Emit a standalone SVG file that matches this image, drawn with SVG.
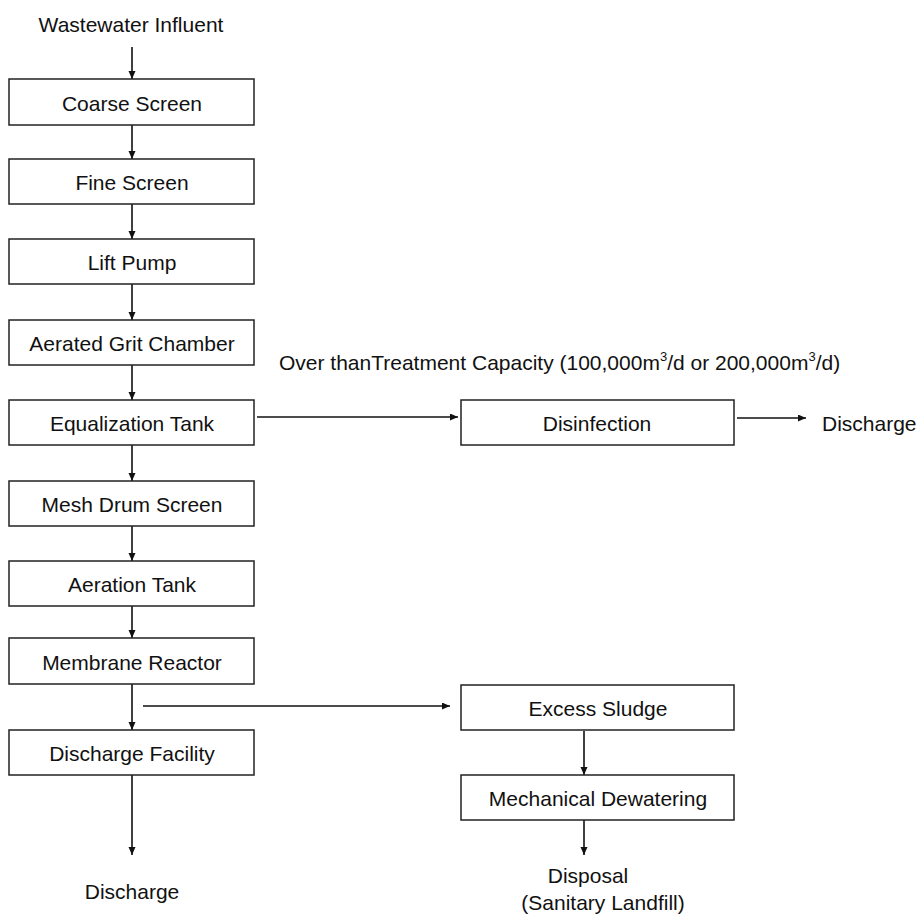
<svg xmlns="http://www.w3.org/2000/svg" width="922" height="918" viewBox="0 0 922 918">
<defs>
<style>
.box{fill:#fff;stroke:#222;stroke-width:1.5}
.t{font-family:"Liberation Sans",Arial,sans-serif;font-size:21px;fill:#111}
.c{text-anchor:middle}
.ln{stroke:#111;stroke-width:1.6;fill:none;marker-end:url(#ah)}
</style>
<marker id="ah" markerUnits="userSpaceOnUse" markerWidth="9" markerHeight="8" refX="8" refY="3.5" orient="auto">
<path d="M0,0 L8,3.5 L0,7 z" fill="#111"/>
</marker>
</defs>
<rect width="922" height="918" fill="#fff"/>
<g id="connectors">
<line class="ln" x1="132" y1="47" x2="132" y2="79"/>
<line class="ln" x1="132" y1="125" x2="132" y2="159"/>
<line class="ln" x1="132" y1="204" x2="132" y2="239"/>
<line class="ln" x1="132" y1="284" x2="132" y2="320"/>
<line class="ln" x1="132" y1="365" x2="132" y2="400"/>
<line class="ln" x1="132" y1="445" x2="132" y2="481"/>
<line class="ln" x1="132" y1="526" x2="132" y2="561"/>
<line class="ln" x1="132" y1="606" x2="132" y2="638"/>
<line class="ln" x1="132" y1="684" x2="132" y2="730"/>
<line class="ln" x1="132" y1="775" x2="132" y2="855"/>
<line class="ln" x1="257" y1="417" x2="458" y2="417"/>
<line class="ln" x1="737" y1="418" x2="806" y2="418"/>
<line class="ln" x1="143" y1="706" x2="450" y2="706"/>
<line class="ln" x1="584" y1="731" x2="584" y2="775"/>
<line class="ln" x1="584" y1="820" x2="584" y2="855"/>
</g>
<g id="influent"><text class="t c" x="131" y="32">Wastewater Influent</text></g>
<g id="coarse-screen"><rect class="box" x="9" y="79" width="245" height="46"/><text class="t c" x="132" y="111">Coarse Screen</text></g>
<g id="fine-screen"><rect class="box" x="9" y="159" width="245" height="45"/><text class="t c" x="132" y="190">Fine Screen</text></g>
<g id="lift-pump"><rect class="box" x="9" y="239" width="245" height="45"/><text class="t c" x="132" y="270">Lift Pump</text></g>
<g id="grit-chamber"><rect class="box" x="9" y="320" width="245" height="45"/><text class="t c" x="132" y="351">Aerated Grit Chamber</text></g>
<g id="equalization"><rect class="box" x="9" y="400" width="245" height="45"/><text class="t c" x="132" y="431">Equalization Tank</text></g>
<g id="mesh-drum"><rect class="box" x="9" y="481" width="245" height="45"/><text class="t c" x="132" y="512">Mesh Drum Screen</text></g>
<g id="aeration"><rect class="box" x="9" y="561" width="245" height="45"/><text class="t c" x="132" y="592">Aeration Tank</text></g>
<g id="membrane"><rect class="box" x="9" y="638" width="245" height="46"/><text class="t c" x="132" y="670">Membrane Reactor</text></g>
<g id="discharge-facility"><rect class="box" x="9" y="730" width="245" height="45"/><text class="t c" x="132" y="761">Discharge Facility</text></g>
<g id="discharge-bottom"><text class="t c" x="132" y="899">Discharge</text></g>
<g id="overflow-label"><text class="t" x="279" y="370">Over thanTreatment Capacity (100,000m<tspan dy="-9" font-size="13">3</tspan><tspan dy="9">/d or 200,000m</tspan><tspan dy="-9" font-size="13">3</tspan><tspan dy="9">/d)</tspan></text></g>
<g id="disinfection"><rect class="box" x="461" y="400" width="273" height="45"/><text class="t c" x="597" y="431">Disinfection</text></g>
<g id="discharge-right"><text class="t" x="822" y="431">Discharge</text></g>
<g id="excess-sludge"><rect class="box" x="461" y="685" width="273" height="45"/><text class="t c" x="598" y="716">Excess Sludge</text></g>
<g id="dewatering"><rect class="box" x="461" y="775" width="273" height="45"/><text class="t c" x="598" y="806">Mechanical Dewatering</text></g>
<g id="disposal"><text class="t c" x="588" y="883">Disposal</text><text class="t c" x="603" y="910">(Sanitary Landfill)</text></g>
</svg>
